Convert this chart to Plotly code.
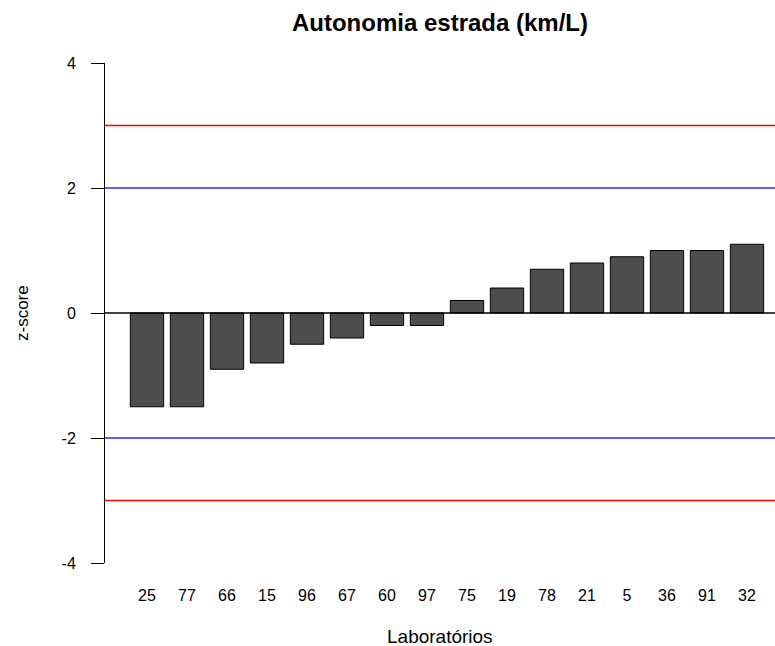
import plotly.graph_objects as go

# Laboratory codes (ordered by z-score) and their z-scores
laboratorios = ["25", "77", "66", "15", "96", "67", "60", "97",
                "75", "19", "78", "21", "5", "36", "91", "32"]
z_scores = [-1.5, -1.5, -0.9, -0.8, -0.5, -0.4, -0.2, -0.2,
            0.2, 0.4, 0.7, 0.8, 0.9, 1.0, 1.0, 1.1]

# Reference limits: action (|z|=3), warning (|z|=2) and the zero line
limites_acao = [3, -3]
limites_alerta = [2, -2]
linha_zero = [0]

y_ticks = [-4, -2, 0, 2, 4]

FONT = "Liberation Sans, Arial, Helvetica, sans-serif"

X_RANGE = [-1.05, 15.70]
posicoes = list(range(len(laboratorios)))

fig = go.Figure()

fig.add_trace(go.Bar(
    x=posicoes,
    y=z_scores,
    width=0.833,
    marker=dict(color="#4d4d4d", line=dict(color="#000000", width=1)),
    hoverinfo="skip",
))


def linhas_horizontais(valores, cor):
    xs, ys = [], []
    for v in valores:
        xs += [X_RANGE[0], X_RANGE[1], None]
        ys += [v, v, None]
    fig.add_trace(go.Scatter(
        x=xs, y=ys, mode="lines", connectgaps=False,
        line=dict(color=cor, width=1.3),
        hoverinfo="skip",
    ))


linhas_horizontais(linha_zero, "rgb(0,0,0)")
linhas_horizontais(limites_alerta, "rgb(40,40,255)")
linhas_horizontais(limites_acao, "rgb(255,0,0)")

fig.update_layout(
    width=775, height=646,
    margin=dict(l=105, r=0, t=63, b=83),
    paper_bgcolor="white", plot_bgcolor="white",
    showlegend=False,
    font=dict(family=FONT, color="#000000"),
    title=dict(text="<b>Autonomia estrada (km/L)</b>",
               font=dict(size=24, family=FONT, color="#000000"),
               x=0.5, xref="paper", xanchor="center",
               y=1 - 23 / 646, yref="container", yanchor="middle"),
    xaxis=dict(
        range=X_RANGE,
        tickmode="array", tickvals=posicoes, ticktext=laboratorios,
        ticks="outside", ticklen=18, tickcolor="rgba(0,0,0,0)",
        showline=False, showgrid=False, zeroline=False,
        tickfont=dict(size=16, family=FONT, color="#000000"),
    ),
    yaxis=dict(
        range=[-4, 4],
        tickmode="array", tickvals=y_ticks,
        ticktext=[str(v) for v in y_ticks],
        ticks="outside", ticklen=13, tickcolor="#000000", tickwidth=1,
        ticklabelstandoff=12,
        showline=True, linecolor="#000000", linewidth=1,
        showgrid=False, zeroline=False,
        tickfont=dict(size=16, family=FONT, color="#000000"),
    ),
    annotations=[
        dict(text="z-score", xref="paper", yref="paper", x=0, y=0.5,
             xanchor="center", yanchor="middle", xshift=-83,
             textangle=-90, showarrow=False,
             font=dict(size=17, family=FONT, color="#000000")),
        dict(text="Laboratórios", xref="paper", yref="paper", x=0.5, y=0,
             xanchor="center", yanchor="middle", yshift=-73,
             showarrow=False,
             font=dict(size=19, family=FONT, color="#000000")),
    ],
)

fig.write_html("out.html")
